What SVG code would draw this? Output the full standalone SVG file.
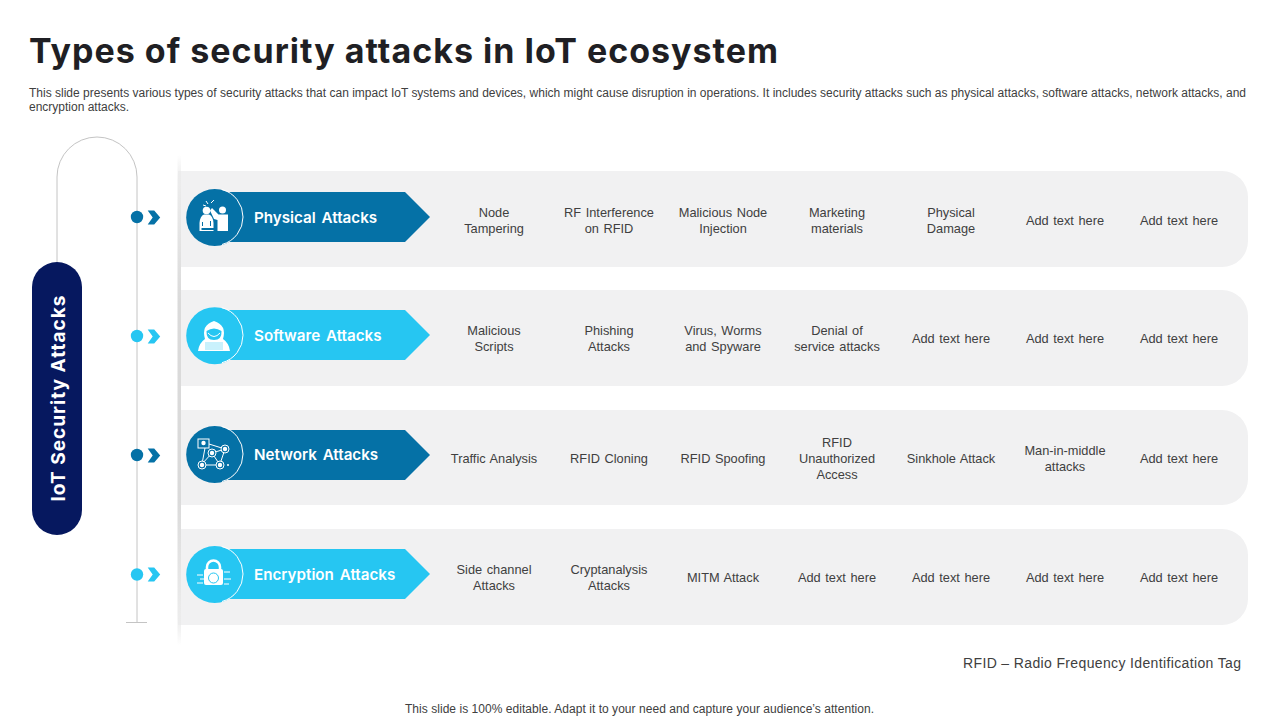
<svg xmlns="http://www.w3.org/2000/svg" width="1280" height="720" viewBox="0 0 1280 720">
<style>
.t{font-family:"Liberation Sans",Arial,sans-serif;font-size:12.8px;fill:#404040;text-anchor:middle;word-spacing:1px}
.s{font-family:"Liberation Sans",Arial,sans-serif;font-size:12px;fill:#404040}
.l{font-family:Inter,"Liberation Sans",sans-serif;font-size:15.200px;font-weight:600;fill:#fff;word-spacing:2px}
.p{fill:#f1f1f2}
.dk{fill:#0571a6}
.lt{fill:#26c6f2}
.ic{fill:#fff}
.il{fill:none;stroke:#fff;stroke-width:1}
.ln{fill:none;stroke:#c4c4c4;stroke-width:1}
.arc{fill:none;stroke:#fff;stroke-width:1}
</style>
<defs>
<path id="chev" d="M0 0H6.500L12.500 7L6.500 14H0L5 7Z"/>
<path id="arrow" d="M215 0H405L430 25L405 50H215Z"/>
<path id="edge" d="M222 -28A28.500 28.500 0 0 1 222 27"/>
<linearGradient id="fade" x1="0" y1="0" x2="0" y2="1"><stop offset="0" stop-color="#e4e4e4" stop-opacity="0"/><stop offset=".06" stop-color="#ececec"/><stop offset=".3" stop-color="#dadada"/><stop offset=".7" stop-color="#dadada"/><stop offset=".94" stop-color="#ececec"/><stop offset="1" stop-color="#e4e4e4" stop-opacity="0"/></linearGradient>
</defs>
<text id="title" x="29" y="63" font-family="Inter,'Liberation Sans',sans-serif" font-size="34" font-weight="700" fill="#1f1f24" textLength="749" lengthAdjust="spacing">Types of security attacks in IoT ecosystem</text>
<text class="s" x="29" y="97" textLength="1217" lengthAdjust="spacing">This slide presents various types of security attacks that can impact IoT systems and devices, which might cause disruption in operations. It includes security attacks such as physical attacks, software attacks, network attacks, and</text>
<text class="s" x="29" y="111">encryption attacks.</text>

<g id="panels">
<path class="p" d="M178 171H1222A26 26 0 0 1 1248 197V241A26 26 0 0 1 1222 267H178Z"/>
<path class="p" d="M178 290H1222A26 26 0 0 1 1248 316V360A26 26 0 0 1 1222 386H178Z"/>
<path class="p" d="M178 410H1222A26 26 0 0 1 1248 436V479A26 26 0 0 1 1222 505H178Z"/>
<path class="p" d="M178 529H1222A26 26 0 0 1 1248 555V599A26 26 0 0 1 1222 625H178Z"/>
<rect x="177.500" y="155" width="3.500" height="490" fill="url(#fade)"/>
</g>

<g id="connectors">
<path class="ln" d="M57 262V177A40 40 0 0 1 137 177V622M126 622.500H147"/>
<circle class="dk" cx="137" cy="217" r="6.200"/><use href="#chev" class="dk" x="147.700" y="210.500"/>
<circle class="lt" cx="137" cy="336" r="6.200"/><use href="#chev" class="lt" x="147.700" y="329.500"/>
<circle class="dk" cx="137" cy="455" r="6.200"/><use href="#chev" class="dk" x="147.700" y="448.500"/>
<circle class="lt" cx="137" cy="574.500" r="6.200"/><use href="#chev" class="lt" x="147.700" y="567.500"/>
</g>

<g id="root">
<rect x="32" y="262" width="50" height="273" rx="25" fill="#06185f"/>
<text transform="translate(65 398.500) rotate(-90)" text-anchor="middle" font-family="Inter,'Liberation Sans',sans-serif" font-size="19" font-weight="700" fill="#fff" textLength="206" lengthAdjust="spacing">IoT Security Attacks</text>
</g>

<g id="physical">
<use href="#arrow" class="dk" y="192"/>
<circle class="dk" cx="214.700" cy="217.500" r="28.500"/>
<use href="#edge" class="arc" y="217.500"/>
<text class="l" x="254" y="222.500">Physical Attacks</text>
<path class="ic" d="M199.500 231V223Q200 216 204 214.500H209Q213 216 213.500 223V228H201.500V230H213.500V231Z"/>
<path d="M202 226V222H203V226ZM210 226V221H211V226Z" fill="#0571a6"/>
<circle class="ic" cx="206.500" cy="210.500" r="3.800"/><circle class="ic" cx="222.500" cy="210" r="3.500"/>
<path class="ic" d="M210 210.500L212 208L218.500 214.500H228V231H217.500V220L214 219Z"/>
<path class="il" d="M208 204L206 201M211 203L214 200M206 206L203 205"/>
</g>

<g id="software">
<use href="#arrow" class="lt" y="310"/>
<circle class="lt" cx="214.700" cy="335.700" r="28.500"/>
<use href="#edge" class="arc" y="335.700"/>
<text class="l" x="254" y="341">Software Attacks</text>
<path class="ic" d="M198 351Q199 343 205 339Q201 325 214 321Q227 325 223 339Q229 343 230 351Z"/>
<path d="M206.500 331Q214 326 221.500 331Q222 340 214 340Q206 340 206.500 331Z" fill="#26c6f2"/>
<path class="il" d="M208 333Q214 340 220 333"/>
<rect x="205" y="342" width="18" height="8" fill="#26c6f2" opacity=".25"/>
</g>

<g id="network">
<use href="#arrow" class="dk" y="430"/>
<circle class="dk" cx="214.700" cy="454.500" r="28.500"/>
<use href="#edge" class="arc" y="454.500"/>
<text class="l" x="254" y="460">Network Attacks</text>
<rect class="il" x="198" y="439" width="11" height="9"/>
<path class="il" d="M209 444L225 449M205 448L202 464M202 464L212 453M212 453L225 449M212 453L220 465M202 465H219M225 449L220 464"/>
<circle class="dk" cx="212" cy="453" r="4" stroke="#fff"/><circle class="dk" cx="225" cy="449" r="4" stroke="#fff"/><circle class="dk" cx="202" cy="465" r="4" stroke="#fff"/><circle class="dk" cx="220" cy="465" r="4" stroke="#fff"/>
<circle class="ic" cx="203.500" cy="443" r="2.200"/><circle class="ic" cx="212" cy="453" r="2.200"/><circle class="ic" cx="225" cy="449" r="2.200"/><circle class="ic" cx="202" cy="465" r="2.200"/><circle class="ic" cx="220" cy="465" r="2.200"/><circle class="ic" cx="228" cy="465" r="1"/>
</g>

<g id="encryption">
<use href="#arrow" class="lt" y="549"/>
<circle class="lt" cx="214.700" cy="574.500" r="28.500"/>
<use href="#edge" class="arc" y="574.500"/>
<text class="l" x="254" y="579.500">Encryption Attacks</text>
<path d="M207 570V567A6.500 6.500 0 0 1 220 567V570" fill="none" stroke="#fff" stroke-width="2.500"/>
<rect class="ic" x="204" y="569" width="19" height="16" rx="2"/>
<circle cx="213.500" cy="578" r="5" fill="none" stroke="#26c6f2"/>
<path class="il" d="M197 575H203M197 583H203M200 579H204M224 572H230M224 579H231M224 584H229"/>
</g>

<g id="row1">
<text class="t" x="494" y="217">Node</text><text class="t" x="494" y="233">Tampering</text>
<text class="t" x="609" y="217">RF Interference</text><text class="t" x="609" y="233">on RFID</text>
<text class="t" x="723" y="217">Malicious Node</text><text class="t" x="723" y="233">Injection</text>
<text class="t" x="837" y="217">Marketing</text><text class="t" x="837" y="233">materials</text>
<text class="t" x="951" y="217">Physical</text><text class="t" x="951" y="233">Damage</text>
<text class="t" x="1065" y="225">Add text here</text><text class="t" x="1179" y="225">Add text here</text>
</g>
<g id="row2">
<text class="t" x="494" y="335">Malicious</text><text class="t" x="494" y="351">Scripts</text>
<text class="t" x="609" y="335">Phishing</text><text class="t" x="609" y="351">Attacks</text>
<text class="t" x="723" y="335">Virus, Worms</text><text class="t" x="723" y="351">and Spyware</text>
<text class="t" x="837" y="335">Denial of</text><text class="t" x="837" y="351">service attacks</text>
<text class="t" x="951" y="343">Add text here</text><text class="t" x="1065" y="343">Add text here</text><text class="t" x="1179" y="343">Add text here</text>
</g>
<g id="row3">
<text class="t" x="494" y="463">Traffic Analysis</text>
<text class="t" x="609" y="463">RFID Cloning</text>
<text class="t" x="723" y="463">RFID Spoofing</text>
<text class="t" x="837" y="447">RFID</text><text class="t" x="837" y="463">Unauthorized</text><text class="t" x="837" y="479">Access</text>
<text class="t" x="951" y="463">Sinkhole Attack</text>
<text class="t" x="1065" y="455">Man-in-middle</text><text class="t" x="1065" y="471">attacks</text>
<text class="t" x="1179" y="463">Add text here</text>
</g>
<g id="row4">
<text class="t" x="494" y="574">Side channel</text><text class="t" x="494" y="590">Attacks</text>
<text class="t" x="609" y="574">Cryptanalysis</text><text class="t" x="609" y="590">Attacks</text>
<text class="t" x="723" y="582">MITM Attack</text>
<text class="t" x="837" y="582">Add text here</text><text class="t" x="951" y="582">Add text here</text><text class="t" x="1065" y="582">Add text here</text><text class="t" x="1179" y="582">Add text here</text>
</g>
<text id="note" x="1241" y="668" text-anchor="end" font-family="'Liberation Sans',Arial,sans-serif" font-size="14" fill="#404040" textLength="278" lengthAdjust="spacing">RFID – Radio Frequency Identification Tag</text>
<text id="footer" x="639.500" y="713" text-anchor="middle" font-family="'Liberation Sans',Arial,sans-serif" font-size="12" fill="#404040" textLength="469" lengthAdjust="spacing">This slide is 100% editable. Adapt it to your need and capture your audience’s attention.</text>
</svg>
